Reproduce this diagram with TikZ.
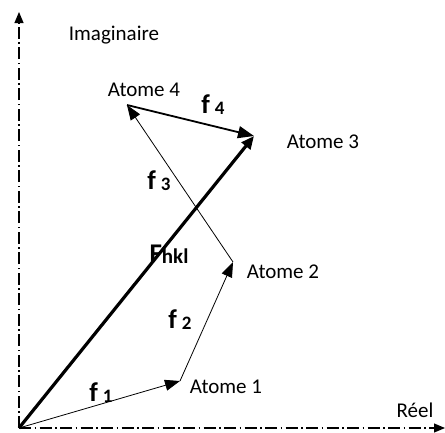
\documentclass[tikz,border=0pt]{standalone}
\usepackage{fontspec}
\setmainfont{Carlito}
\usetikzlibrary{arrows.meta}
\begin{document}
\begin{tikzpicture}[x=1pt,y=-1pt,
  axis/.style={line width=1.1pt, dash pattern=on 12pt off 3.5pt on 1.5pt off 3.5pt, -{Triangle[length=11pt,width=9pt]}},
  vec/.style={line width=0.8pt, -{Triangle[length=15pt,width=11pt]}},
  vecmid/.style={line width=1.8pt, -{Triangle[length=16pt,width=12pt]}},
  vecbig/.style={line width=3.2pt, -{Triangle[length=13pt,width=11pt]}},
  lbl/.style={font=\fontsize{21}{24}\selectfont, inner sep=0pt},
  flbl/.style={font=\fontsize{27}{30}\selectfont\bfseries, inner sep=0pt}]
\useasboundingbox (0,0) rectangle (445,432);
\coordinate (O) at (19,428);
\coordinate (Ytop) at (19,12);
\coordinate (Xend) at (445,428);
\coordinate (A1) at (180,381);
\coordinate (A2) at (233,262);
\coordinate (A3) at (254,136);
\coordinate (A4) at (127,105);
\draw[axis] (O) -- (Ytop);
\draw[axis] (O) -- (Xend);
\draw[vec] (O) -- (A1);
\draw[vec] (A1) -- (A2);
\draw[vec] (A2) -- (A4);
\draw[vecmid] (A4) -- (A3);
\draw[vecbig] (O) -- (A3);
\node[lbl] (im) at (114,35) {Imaginaire};
\node[lbl] (t4) at (144,90) {Atome 4};
\node[lbl] (t3) at (323,142) {Atome 3};
\node[lbl] (t2) at (283,272) {Atome 2};
\node[lbl] (t1) at (226,387) {Atome 1};
\node[lbl] (re) at (415,410) {Réel};
\node[flbl] (f4) at (213,105) {f\hspace{5pt}\raisebox{-1pt}{\fontsize{19}{21}\selectfont 4}};
\node[flbl] (f3) at (159,181) {f\hspace{5pt}\raisebox{-1pt}{\fontsize{19}{21}\selectfont 3}};
\node[flbl] (f2) at (180,320) {f\hspace{5pt}\raisebox{-1pt}{\fontsize{19}{21}\selectfont 2}};
\node[flbl] (f1) at (101,393) {f\hspace{5pt}\raisebox{-1pt}{\fontsize{19}{21}\selectfont 1}};
\node[flbl] (F) at (169,254) {F\raisebox{-1.5pt}{\fontsize{21}{23}\selectfont hkl}};
\end{tikzpicture}
\end{document}
